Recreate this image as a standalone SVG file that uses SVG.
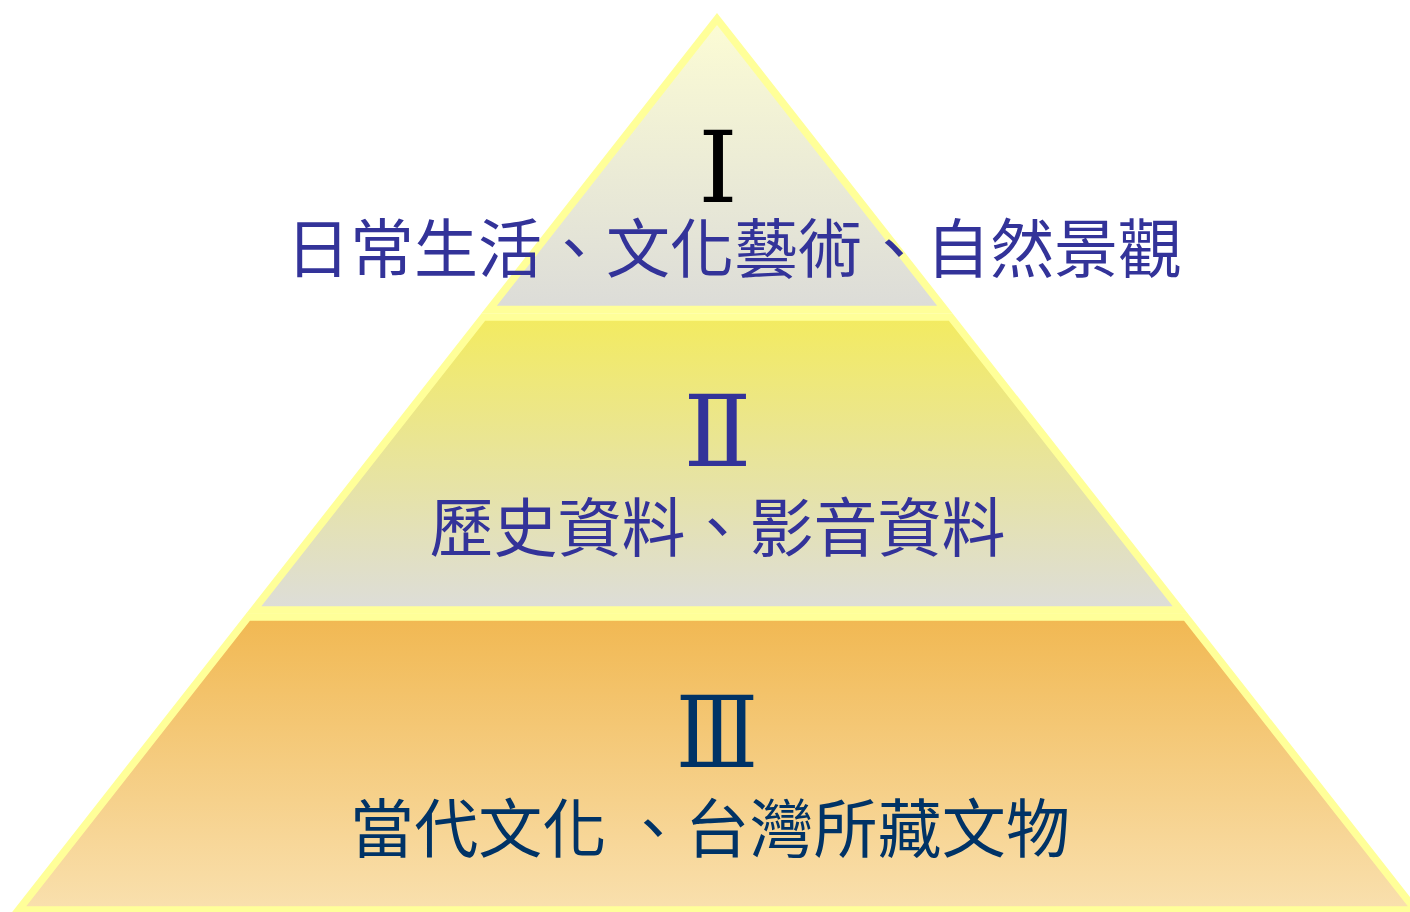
<svg xmlns="http://www.w3.org/2000/svg" width="1410" height="912" viewBox="0 0 1410 912">
<defs>
<linearGradient id="g1" x1="0" y1="0" x2="0" y2="1">
<stop offset="0" stop-color="#FCFCD4"/>
<stop offset="1" stop-color="#DCDCD8"/>
</linearGradient>
<linearGradient id="g2" x1="0" y1="0" x2="0" y2="1">
<stop offset="0" stop-color="#F3EB60"/>
<stop offset="1" stop-color="#DDDDD9"/>
</linearGradient>
<linearGradient id="g3" x1="0" y1="0" x2="0" y2="1">
<stop offset="0" stop-color="#F1B852"/>
<stop offset="1" stop-color="#F9E0AE"/>
</linearGradient>
</defs>
<style>
.layer{stroke:#FFFF99;stroke-width:7.5;stroke-linejoin:miter}
.num{font-family:"Liberation Serif","DejaVu Serif","Noto Sans CJK TC",serif;font-size:100px;text-anchor:middle}
.cjk{font-family:"Noto Sans CJK TC","Noto Sans CJK SC",sans-serif;font-size:64px;text-anchor:middle}
</style>
<rect width="1410" height="912" fill="#FFFFFF"/>
<g id="level3">
<path class="layer" fill="url(#g3)" d="M248.2,617 L1185.8,617 L1415.5,910 L18.5,910 Z"/>
<text class="num" transform="translate(717,767) scale(0.85,1)" x="0" y="0" fill="#003366">Ⅲ</text>
<text class="cjk" x="710" y="852" fill="#003366" textLength="720" lengthAdjust="spacing">當代文化 、台灣所藏文物</text>
</g>
<g id="level2">
<path class="layer" fill="url(#g2)" d="M483.4,317 L950.6,317 L1180.3,610 L253.7,610 Z"/>
<text class="num" x="717.5" y="466" fill="#333399">Ⅱ</text>
<text class="cjk" x="717.5" y="551" fill="#333399">歷史資料、影音資料</text>
</g>
<g id="level1">
<path class="layer" fill="url(#g1)" d="M717,19 L944.8,309.5 L489.2,309.5 Z"/>
<text class="num" x="718" y="202" fill="#000000">Ⅰ</text>
<text class="cjk" x="734" y="272" fill="#333399">日常生活、文化藝術、自然景觀</text>
</g>
<g id="connectors"/>
</svg>
